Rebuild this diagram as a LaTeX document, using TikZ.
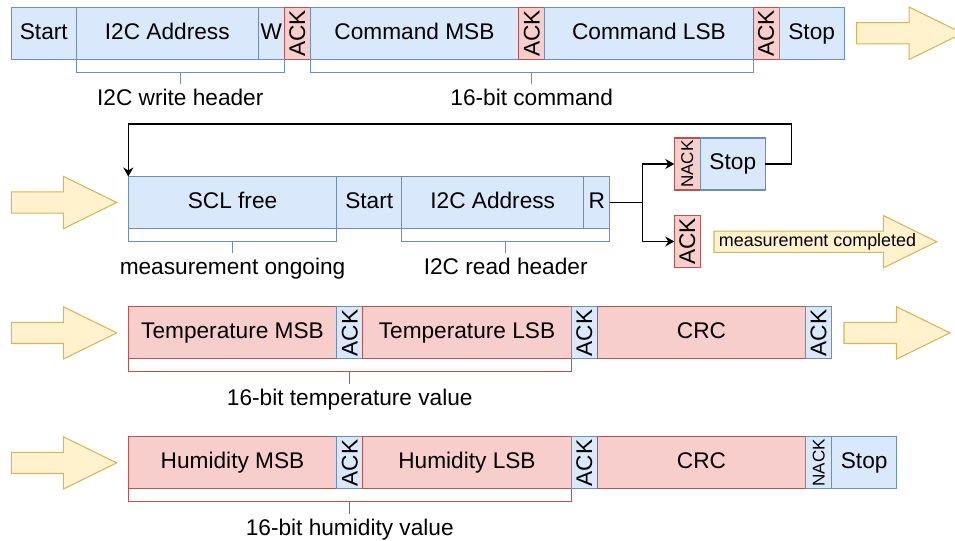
\documentclass[tikz,border=0pt]{standalone}
\usepackage{fontspec}
\setmainfont{Liberation Sans}
\usetikzlibrary{positioning,calc,arrows.meta}
\definecolor{bfill}{HTML}{DAE8FC}
\definecolor{bline}{HTML}{6C8EBF}
\definecolor{rfill}{HTML}{F8CECC}
\definecolor{rline}{HTML}{B85450}
\definecolor{yfill}{HTML}{FFF2CC}
\definecolor{yline}{HTML}{D6B656}
\tikzset{field/.style={draw, outer sep=0pt, inner sep=0pt, minimum height=1.04cm, line width=0.6pt, font=\fontsize{12.9}{15}\selectfont, text height=9.5pt, text depth=2.7pt}}
\tikzset{bfield/.style={field, fill=bfill, draw=bline}}
\tikzset{rfield/.style={field, fill=rfill, draw=rline}}
\tikzset{vert/.style={text height=, text depth=}}
\tikzset{wlong/.style={minimum width=4.17cm}, waddr/.style={minimum width=3.64cm}, wshort/.style={minimum width=1.3cm}, wbit/.style={minimum width=0.52cm, vert}}
\tikzset{brkB/.style={draw=bline, line width=0.6pt}, brkR/.style={draw=rline, line width=0.6pt}}
\tikzset{lbl/.style={font=\fontsize{12.9}{15}\selectfont, inner sep=2.5pt, text height=9.5pt, text depth=2.7pt}}
\tikzset{arr/.style={draw, line width=0.7pt, -{Stealth[length=1.8mm, width=2mm]}}}
\tikzset{pics/yarrow/.style={code={
    \draw[fill=yfill, draw=yline, line width=0.6pt] (0,-10.6) -- (#1,-10.6) -- (#1,-26.2) -- (#1+53.4,0)
        -- (#1,26.2) -- (#1,10.6) -- (0,10.6) -- cycle;}}}

\begin{document}
\begin{tikzpicture}[x=0.02cm, y=-0.02cm]
    \useasboundingbox (0,0) rectangle (955,540);
    \clip (0,0) rectangle (955,540);

    % write command
    \node[bfield, wshort, anchor=west] (start1) at (11.3,33.3) {Start};
    \node[bfield, waddr, right=0pt of start1] (addr1) {I2C Address};
    \node[bfield, wbit, right=0pt of addr1, text height=9.5pt, text depth=2.7pt] (w1) {W};
    \node[rfield, wbit, right=0pt of w1] (ack1a) {\rotatebox{90}{ACK}};
    \node[bfield, wlong, right=0pt of ack1a] (msb1) {Command MSB};
    \node[rfield, wbit, right=0pt of msb1] (ack1b) {\rotatebox{90}{ACK}};
    \node[bfield, wlong, right=0pt of ack1b] (lsb1) {Command LSB};
    \node[rfield, wbit, right=0pt of lsb1] (ack1c) {\rotatebox{90}{ACK}};
    \node[bfield, wshort, right=0pt of ack1c] (stop1) {Stop};
    \pic at (856.7,33.3) {yarrow=52.5};

    \coordinate (m1a) at ($(addr1.south west)!.5!(w1.south east)+(0,13)$);
    \coordinate (m1b) at ($(msb1.south west)!.5!(lsb1.south east)+(0,13)$);
    \node[lbl, below=0.24cm of m1a] (hdr1) {I2C write header};
    \node[lbl, below=0.24cm of m1b] (cmd1) {16-bit command};
    \draw[brkB] (addr1.south west) -- ++(0,13) -| (w1.south east);
    \draw[brkB] (m1a) -- (hdr1);
    \draw[brkB] (msb1.south west) -- ++(0,13) -| (lsb1.south east);
    \draw[brkB] (m1b) -- (cmd1);

    % polling
    \pic at (11.3,202.5) {yarrow=52};
    \node[bfield, wlong, anchor=west] (scl2) at (128.3,202.5) {SCL free};
    \node[bfield, wshort, right=0pt of scl2] (start2) {Start};
    \node[bfield, waddr, right=0pt of start2] (addr2) {I2C Address};
    \node[bfield, wbit, right=0pt of addr2, text height=9.5pt, text depth=2.7pt] (r2) {R};
    \node[rfield, wbit, anchor=west] (nack2) at (674.3,164) {\rotatebox{90}{\fontsize{9.7}{11}\selectfont NACK}};
    \node[bfield, wshort, right=0pt of nack2] (stop2) {Stop};
    \node[rfield, wbit, anchor=west] (ack2) at (674.3,241.5) {\rotatebox{90}{ACK}};
    \pic at (714,241.7) {yarrow=169.3};
    \node[font=\fontsize{10.2}{12}\selectfont, inner sep=0pt] (done) at (817.5,241.7) {measurement completed};

    \draw[arr] (r2.east) -- ++(33,0) |- (nack2.west);
    \draw[arr] (r2.east) -- ++(33,0) |- (ack2.west);
    \draw[arr] (stop2.east) -- ++(26,0) |- ($(scl2.north west)+(0,-52.4)$) -- (scl2.north west);

    \coordinate (m2a) at ($(scl2.south west)!.5!(scl2.south east)+(0,13)$);
    \coordinate (m2b) at ($(addr2.south west)!.5!(r2.south east)+(0,13)$);
    \node[lbl, below=0.24cm of m2a] (ongo2) {measurement ongoing};
    \node[lbl, below=0.24cm of m2b] (hdr2) {I2C read header};
    \draw[brkB] (scl2.south west) -- ++(0,13) -| (scl2.south east);
    \draw[brkB] (m2a) -- (ongo2);
    \draw[brkB] (start2.south east) -- ++(0,13) -| (r2.south east);
    \draw[brkB] (m2b) -- (hdr2);

    % temperature
    \pic at (11.3,332.9) {yarrow=52};
    \node[rfield, wlong, anchor=west] (tmsb3) at (128.3,332.9) {Temperature MSB};
    \node[bfield, wbit, right=0pt of tmsb3] (ack3a) {\rotatebox{90}{ACK}};
    \node[rfield, wlong, right=0pt of ack3a] (tlsb3) {Temperature LSB};
    \node[bfield, wbit, right=0pt of tlsb3] (ack3b) {\rotatebox{90}{ACK}};
    \node[rfield, wlong, right=0pt of ack3b] (crc3) {CRC};
    \node[bfield, wbit, right=0pt of crc3] (ack3c) {\rotatebox{90}{ACK}};
    \pic at (844,332.9) {yarrow=52.5};

    \coordinate (m3) at ($(tmsb3.south west)!.5!(tlsb3.south east)+(0,13)$);
    \node[lbl, below=0.24cm of m3] (val3) {16-bit temperature value};
    \draw[brkR] (tmsb3.south west) -- ++(0,13) -| (tlsb3.south east);
    \draw[brkR] (m3) -- (val3);

    % humidity
    \pic at (11.3,462.9) {yarrow=52};
    \node[rfield, wlong, anchor=west] (hmsb4) at (128.3,462.9) {Humidity MSB};
    \node[bfield, wbit, right=0pt of hmsb4] (ack4a) {\rotatebox{90}{ACK}};
    \node[rfield, wlong, right=0pt of ack4a] (hlsb4) {Humidity LSB};
    \node[bfield, wbit, right=0pt of hlsb4] (ack4b) {\rotatebox{90}{ACK}};
    \node[rfield, wlong, right=0pt of ack4b] (crc4) {CRC};
    \node[bfield, wbit, right=0pt of crc4] (nack4) {\rotatebox{90}{\fontsize{9.7}{11}\selectfont NACK}};
    \node[bfield, wshort, right=0pt of nack4] (stop4) {Stop};

    \coordinate (m4) at ($(hmsb4.south west)!.5!(hlsb4.south east)+(0,13)$);
    \node[lbl, below=0.24cm of m4] (val4) {16-bit humidity value};
    \draw[brkR] (hmsb4.south west) -- ++(0,13) -| (hlsb4.south east);
    \draw[brkR] (m4) -- (val4);
\end{tikzpicture}
\end{document}
